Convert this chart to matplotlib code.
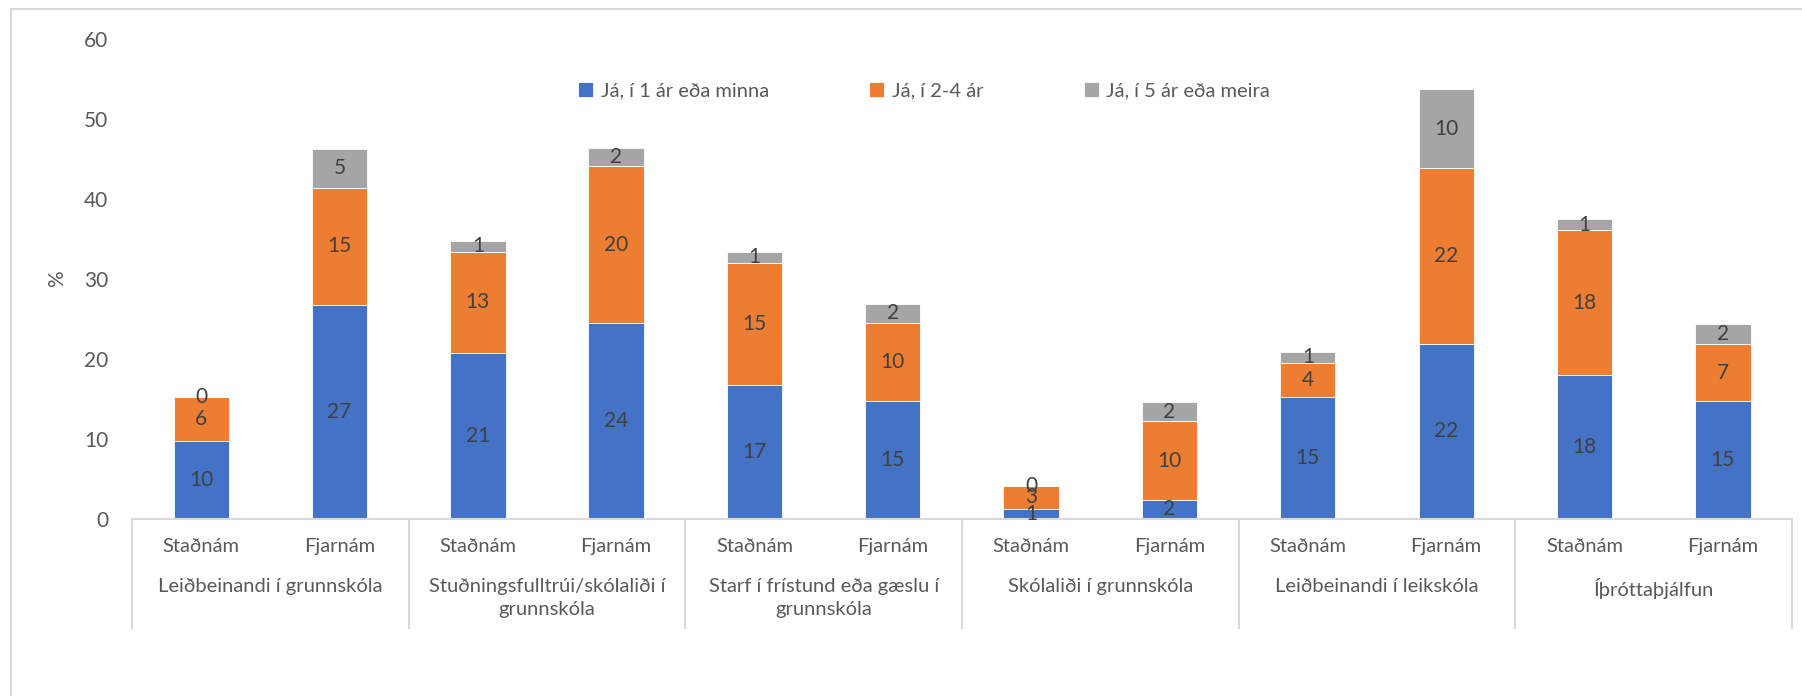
import matplotlib.pyplot as plt
from matplotlib.lines import Line2D

plt.rcParams['font.family'] = ['Lato', 'DejaVu Sans']

# data (percent)
groups = [
    "Leiðbeinandi í grunnskóla",
    "Stuðningsfulltrúi/skólaliði í\ngrunnskóla",
    "Starf í frístund eða gæslu í\ngrunnskóla",
    "Skólaliði í grunnskóla",
    "Leiðbeinandi í leikskóla",
    "Íþróttaþjálfun",
]
modes = ["Staðnám", "Fjarnám"]
series_names = ["Já, í 1 ár eða minna", "Já, í 2-4 ár", "Já, í 5 ár eða meira"]

one_year = [9.7, 26.8, 20.8, 24.5, 16.7, 14.7, 1.3, 2.4, 15.3, 21.9, 18.0, 14.7]
two_four = [5.6, 14.6, 12.6, 19.6, 15.3, 9.8, 2.8, 9.8, 4.2, 22.0, 18.1, 7.2]
five_more = [0.0, 4.9, 1.4, 2.3, 1.4, 2.4, 0.0, 2.4, 1.4, 9.8, 1.4, 2.5]

colors = ["#4472C4", "#ED7D31", "#A5A5A5"]
label_color = "#404040"
tick_color = "#595959"
line_color = "#D9D9D9"

W, H = 1802, 696
fig = plt.figure(figsize=(W / 100, H / 100), dpi=100)
ax = fig.add_axes([132 / W, 1 - 519 / H, (1792 - 132) / W, (519 - 39) / H])

x = list(range(len(one_year)))
bottom = [0.0] * len(x)
handles = []
for vals, col, name in zip([one_year, two_four, five_more], colors, series_names):
    bars = ax.bar(x, vals, width=0.4, bottom=bottom, color=col,
                  edgecolor="white", linewidth=0.6, label=name)
    handles.append(bars)
    for xi, v, b in zip(x, vals, bottom):
        ax.text(xi, b + v / 2, f"{v:.0f}", ha="center", va="center",
                fontsize=15, color=label_color)
    bottom = [b + v for b, v in zip(bottom, vals)]

ax.set_xlim(-0.5, len(x) - 0.5)
ax.set_ylim(0, 60)
ax.set_yticks(range(0, 61, 10))
ax.tick_params(axis="y", length=0, pad=17, labelsize=15, labelcolor=tick_color)
ax.set_xticks([])
for s in ["top", "right", "left"]:
    ax.spines[s].set_visible(False)
ax.spines["bottom"].set_color(line_color)
ax.spines["bottom"].set_linewidth(1.5)

ax.set_ylabel("%", fontsize=15, color=tick_color, labelpad=12)

# category labels under the axis
trans = ax.get_xaxis_transform()
px = 1 / (519 - 39)
for xi in x:
    ax.text(xi, -27.7 * px, modes[xi % 2], ha="center", va="center",
            fontsize=14.5, color=tick_color, transform=trans)
for gi, g in enumerate(groups):
    ax.text(2 * gi + 0.5, -59 * px, g, ha="center", va="top", fontsize=14.5,
            color=tick_color, transform=trans, linespacing=1.4)
for gi in range(len(groups) + 1):
    ax.plot([2 * gi - 0.5, 2 * gi - 0.5], [0, -109 * px], color=line_color,
            linewidth=1.5, transform=trans, clip_on=False)

ax.legend(handles=handles, loc="center", bbox_to_anchor=(924 / W, 1 - 91 / H),
          bbox_transform=fig.transFigure, ncol=3, frameon=False, fontsize=14.5,
          handlelength=0.75, handleheight=0.75, handletextpad=0.35,
          columnspacing=5.0, labelcolor=tick_color)

# chart area border (left and top visible)
fig.add_artist(Line2D([10.7 / W, 10.7 / W, 1.0], [0.0, 1 - 9.3 / H, 1 - 9.3 / H],
                      color=line_color, linewidth=1.5))

fig.savefig("out.png", dpi=100)
